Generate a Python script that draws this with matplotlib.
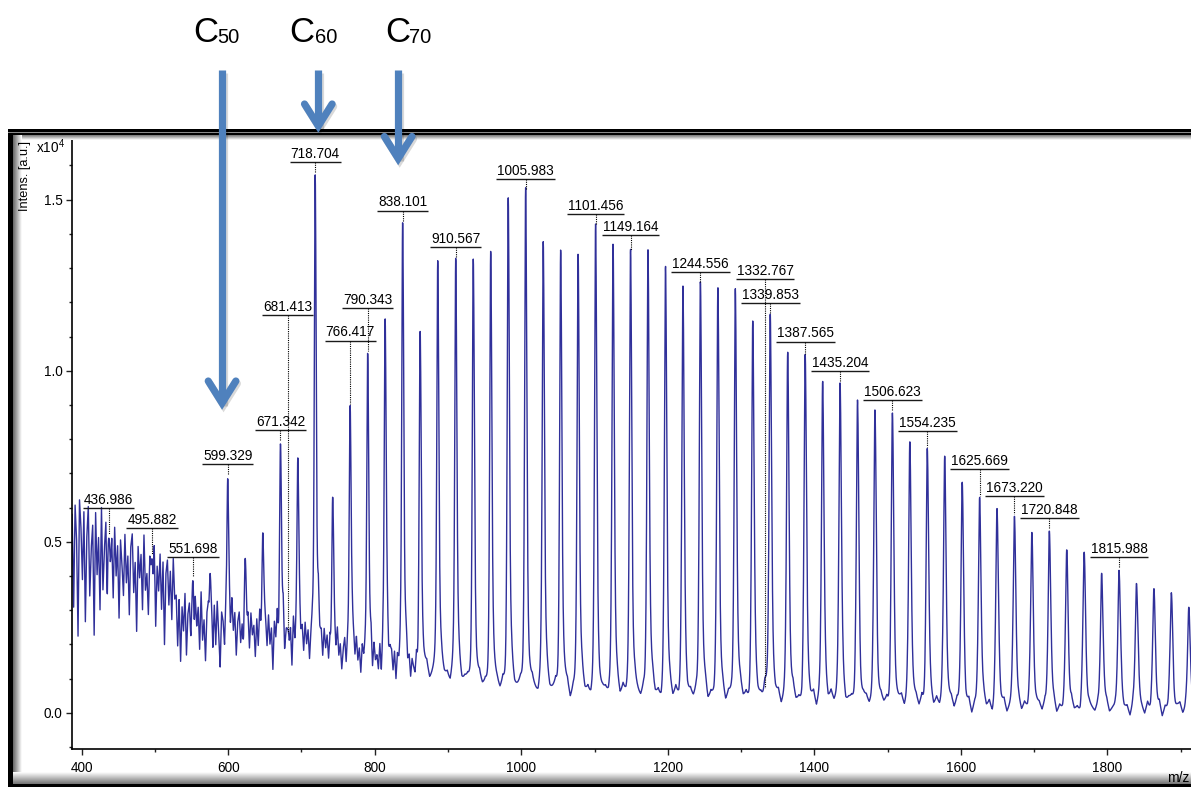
import numpy as np
import matplotlib
matplotlib.use('Agg')
import matplotlib.pyplot as plt
from matplotlib.patches import Rectangle

plt.rcParams['font.family'] = ['Liberation Sans', 'DejaVu Sans']
plt.rcParams['mathtext.fontset'] = 'custom'
plt.rcParams['mathtext.rm'] = 'Liberation Sans'
plt.rcParams['mathtext.it'] = 'Liberation Sans:italic'

W, H = 1191, 787

# peak positions (m/z) and apex intensities (x10^4)
peak_mz = [436.986, 495.882, 551.698, 575.3, 599.329, 623.2, 647.2, 671.342, 681.413,
           695.0, 718.704, 742.6, 766.417, 790.343, 814.2, 838.101, 862.0, 886.0,
           910.567, 934.5, 958.3, 982.2, 1005.983, 1030.0, 1053.8, 1077.6, 1101.456,
           1125.3, 1149.164, 1173.0, 1196.9, 1220.7, 1244.556, 1268.4, 1292.2, 1316.0,
           1332.767, 1339.853, 1363.7, 1387.565, 1411.4, 1435.204, 1459.0, 1482.8,
           1506.623, 1530.4, 1554.235, 1578.0, 1601.9, 1625.669, 1649.4, 1673.220,
           1697.0, 1720.848, 1744.6, 1768.4, 1792.2, 1815.988, 1839.8, 1863.6, 1887.4,
           1911.2]
peak_top = [0.51, 0.45, 0.385, 0.405, 0.683, 0.447, 0.522, 0.783, 0.22,
            0.737, 1.567, 0.62, 0.891, 1.044, 1.141, 1.426, 1.101, 1.309,
            1.317, 1.312, 1.335, 1.491, 1.519, 1.361, 1.338, 1.329, 1.414,
            1.355, 1.341, 1.338, 1.292, 1.233, 1.246, 1.230, 1.226, 1.131,
            0.06, 1.153, 1.041, 1.036, 0.958, 0.953, 0.903, 0.875,
            0.868, 0.783, 0.763, 0.741, 0.666, 0.622, 0.590, 0.567,
            0.520, 0.526, 0.471, 0.464, 0.402, 0.411, 0.373, 0.359, 0.347,
            0.305]

# smooth background level
base_mz = [387, 425, 460, 495, 525, 532, 560, 600, 650, 700, 750, 800, 850, 900,
           950, 1000, 1100, 1200, 1400, 1600, 1800, 1920]
base_val = [0.47, 0.44, 0.42, 0.39, 0.37, 0.27, 0.26, 0.24, 0.22, 0.19, 0.16, 0.13,
            0.10, 0.07, 0.05, 0.04, 0.025, 0.02, 0.015, 0.005, 0.0, 0.0]

# noise trace, 387-861 every 2 m/z (x0.01)
noise_low = [11, -16, 14, 4, -24, 16, 8, -7, 13, -19, 6, 15, -11, 3, 10, -22, 14, -4, 7, -14,
             16, -8, 4, 12, -18, 8, -3,
             7, -10, 11, -3, 6, -15, 8, 1, -8, 10, -4, 4, -13, 7, 11, -6, 3, -17, 8, -1,
             6, -10, 12, -4, 1, -11, 7, 3, -7, 10, -14, 4, -3, 8, -8, 6, -18, 3, 7, -6,
             4, -10, 8, -1, 3,
             -9, 6, -12, 4, -3, 8, -10, 2, 5, -7, 3, -13, 6, -2, 4, -8, 9, -5, 1, -11,
             3, 6, -4, 2, -9, 5, -6, 7, -2, -12, 4, 1, -7, 5, -3,
             3, -5, 6, -2, 4, -8, 2, 5, -4, 1, -9, 6, -3, 3, -6, 5, -1, 2, -7, 4,
             -4, 6, -2, -8, 3, 1, -5, 5, -3, 2, -10, 4, -1, 6, -6, 2, -3, 5, -7, 1,
             4, -4, 3, -8, 6, -2, 1, -5, 3, -3,
             2, -4, 5, -1, 3, -6, 1, 4, -3, 2, -7, 5, -2, 1, -5, 4, -1, 3, -4, 2,
             -6, 3, 0, -3, 5, -2, 2, -5, 1, 4, -4, 2, -1, -6, 3, 1, -3, 4, -2, 2,
             -5, 3, -1, 1, -4, 4, -2, 2, -6, 3, -1, 1, -3, 4, -5, 2, 0, -2, 3, -4,
             1, 2, -3, 3, -5, 2, -1, 1, -4, 3, -2, 2, -3, 1, -4, 2, 0, -2, 3, -3, 1]
# noise trace, 863-1919 every 4 m/z (x0.001)
noise_high = [12, -8, 21, -15, 4, 18, -22, 7, -3, 15, -11, 24, -6, 2, -18, 10, 16, -9, 5, -25,
              14, -4, 9, -16, 22, -7, 3, -12, 17, -20, 6, 11, -14, 1, 19, -10, 8, -23, 13, -2,
              -17, 20, -5, 10, -13, 4, 23, -19, 7, -1, 15, -24, 9, 3, -11, 18, -8, 12, -15, 6,
              16, -21, 2, 13, -6, 19, -12, 5, -18, 22, -3, 8, -26, 11, 1, -9, 17, -14, 4, 20,
              -7, 10, -19, 14, -2, 6, -16, 21, -11, 3, 12, -22, 8, -5, 17, -13, 2, 15, -20, 9,
              -4, 18, -10, 5, -23, 13, 7, -15, 1, 19, -8, 11, -17, 4, 22, -12, 6, -2, 14, -19,
              10, -6, 16, -21, 3, 9, -14, 20, -9, 2, -18, 12, 5, -11, 17, -24, 8, -3, 13, -16,
              21, -5, 7, -13, 15, -20, 4, 11, -8, 18, -26, 6, 14, -10, 1, 19, -15, 9, -4, 12,
              -22, 16, -7, 3, 20, -12, 10, -17, 5, 13, -9, 22, -19, 2, 8, -14, 17, -6, 11, -21,
              4, 15, -10, 19, -3, 7, -16, 12, -25, 9, 1, -13, 18, -7, 14, -20, 6, 10, -4, 16,
              -18, 3, 21, -11, 8, -15, 13, -2, 17, -23, 5, 11, -9, 20, -14, 2, 15, -19, 7, -5,
              12, -21, 18, -6, 4, -12, 22, -16, 9, 1, -8, 14, -24, 6, 19, -11, 3, 10, -17, 13,
              -3, 8, -20, 16, -9, 11, 2, -15, 21, -7, 5, -13, 17, -22, 10, -1, 14, -18, 6, 20,
              -10, 4, -14, 9, -6]

label_text = ['436.986', '495.882', '551.698', '599.329', '671.342', '681.413', '718.704',
              '766.417', '790.343', '838.101', '910.567', '1005.983', '1101.456', '1149.164',
              '1244.556', '1332.767', '1339.853', '1387.565', '1435.204', '1506.623',
              '1554.235', '1625.669', '1673.220', '1720.848', '1815.988']
# height of each label's underline
label_level = [0.599, 0.541, 0.454, 0.727, 0.827, 1.163, 1.609, 1.088, 1.182, 1.468,
               1.361, 1.560, 1.458, 1.397, 1.288, 1.268, 1.197, 1.085, 1.000, 0.914,
               0.824, 0.712, 0.634, 0.570, 0.456]

cluster_names = ['50', '60', '70']
cluster_mz = [591.6, 723.0, 832.0]
cluster_tip = [0.885, 1.695, 1.60]
# left edge of "C" and of the subscript, pixels
name_x = [193.5, 289.5, 385.0]
sub_x = [217.0, 314.5, 409.5]


def profile(x, c, amp):
    s = 0.6 + 0.0008 * c
    d = x - c
    g = np.where(d < 0, 1.5, 2.5)
    return amp * (0.5 * np.exp(-0.5 * (d / s) ** 2) + 0.5 / (1 + (d / g) ** 2))


fig = plt.figure(figsize=(W / 100, H / 100), dpi=100)
ax = fig.add_axes([72 / W, 1 - 749 / H, (1195 - 72) / W, (749 - 138) / H])

noise_mz = np.concatenate([np.arange(387, 862, 2), np.arange(863, 1922, 4)])
noise_val = np.concatenate([np.array(noise_low) / 100.0, np.array(noise_high) / 1000.0])

x = np.arange(386.5, 1920.5, 0.25)
y = np.interp(x, base_mz, base_val)
damp = np.ones_like(x)
for c, top in zip(peak_mz, peak_top):
    amp = max(top - np.interp(c, base_mz, base_val), 0.0)
    y += profile(x, c, amp)
    damp *= 1 - np.exp(-0.5 * ((x - c) / 1.5) ** 2)
y += np.interp(x, noise_mz, noise_val) * damp

ax.plot(x, y, color='#30309A', lw=1.0)

ax.set_xlim(386.76, 1919.7)
ax.set_ylim(-0.1061, 1.6804)
ax.set_xticks(np.arange(400, 1901, 200))
ax.set_xticks(np.arange(500, 1901, 200), minor=True)
ax.set_yticks([0.0, 0.5, 1.0, 1.5])
ax.set_yticklabels(['0.0', '0.5', '1.0', '1.5'])
ax.set_yticks([-0.1, 0.1, 0.2, 0.3, 0.4, 0.6, 0.7, 0.8, 0.9, 1.1, 1.2, 1.3, 1.4, 1.6], minor=True)
ax.tick_params(which='major', direction='out', length=4.3, width=1.0, labelsize=9.8, color='#222222')
ax.tick_params(which='minor', direction='out', length=2.5, width=1.0, color='#222222')
ax.tick_params(axis='y', pad=2.5)
ax.tick_params(axis='x', pad=4.5)
for s in ['top', 'right']:
    ax.spines[s].set_visible(False)
for s in ['left', 'bottom']:
    ax.spines[s].set_linewidth(1.2)

fig.text(25 / W, 1 - 176 / H, 'Intens. [a.u.]', rotation=90, ha='center', va='center',
         fontsize=9.2, zorder=10)
fig.text(36 / W, 1 - 153 / H, r'x10$^4$', ha='left', va='baseline', fontsize=9.8, zorder=10)
fig.text(1167 / W, 1 - 782 / H, 'm/z', ha='left', va='baseline', fontsize=10, zorder=10)

# peak labels with underline and dotted leader
fig.canvas.draw()
r = fig.canvas.get_renderer()
inv = ax.transData.inverted()
for txt, lvl in zip(label_text, label_level):
    mz = float(txt)
    top = peak_top[peak_mz.index(mz)]
    t = ax.annotate(txt, (mz, lvl), xytext=(0, 3), textcoords='offset points',
                    ha='center', va='baseline', fontsize=9.8, annotation_clip=False)
    bb = t.get_window_extent(r)
    x0 = inv.transform((bb.x0 - 1, 0))[0]
    x1 = inv.transform((bb.x1 + 1, 0))[0]
    ax.plot([x0, x1], [lvl, lvl], color='#1a1a1a', lw=1.0, solid_capstyle='butt')
    ax.plot([mz, mz], [lvl, top + 0.013], color='k', lw=0.8, ls=(0, (1, 1)))

# window frame, arrows and cluster names, in pixel coordinates (y down)
ov = fig.add_axes([0, 0, 1, 1], zorder=5)
ov.patch.set_visible(False)
ov.axis('off')


def shade(x0, x1, y0, y1, v0, v1, horizontal):
    g = np.linspace(v0, v1, 32)
    img = g[None, :] if horizontal else g[:, None]
    ov.imshow(img, extent=[x0, x1, y1, y0], cmap='gray', vmin=0, vmax=1,
              aspect='auto', interpolation='bilinear')


shade(12.5, W, 135.5, 140.5, 0.45, 1.0, False)
shade(12.5, 21, 135.5, 784, 0.4, 1.0, True)
shade(12.5, W, 772, 784, 1.0, 0.45, False)
ov.add_patch(Rectangle((8, 129), 4.5, H - 129, color='black', lw=0))
ov.add_patch(Rectangle((8, 129), W, 2.5, color='black', lw=0))
ov.add_patch(Rectangle((8, 131.5), W, 1.3, color='#8a8a8a', lw=0))
ov.add_patch(Rectangle((8, 132.8), W, 2.7, color='black', lw=0))
ov.add_patch(Rectangle((8, 784), W, 3, color='black', lw=0))

blue = '#4F81BD'
for name, mz, tip, nx, sx in zip(cluster_names, cluster_mz, cluster_tip, name_x, sub_x):
    xd, yd = ax.transData.transform((mz, tip))
    vy = H - yd - 7
    for dx, dy, col, a in [(1.5, 2.5, 'black', 0.15), (0, 0, blue, 1.0)]:
        ov.plot([xd + dx, xd + dx], [70 + dy, vy + dy], color=col, alpha=a, lw=5.2,
                solid_capstyle='butt')
        ov.plot([xd - 13.8 + dx, xd + dx, xd + 13.8 + dx], [vy - 22 + dy, vy + dy, vy - 22 + dy],
                color=col, alpha=a, lw=5.2, solid_capstyle='round', solid_joinstyle='miter')
    ov.text(nx, 42, 'C', fontsize=25, ha='left', va='baseline')
    ov.text(sx, 43, name, fontsize=14.5, ha='left', va='baseline')

ov.set_xlim(0, W)
ov.set_ylim(H, 0)

fig.savefig('out.png', dpi=100)
